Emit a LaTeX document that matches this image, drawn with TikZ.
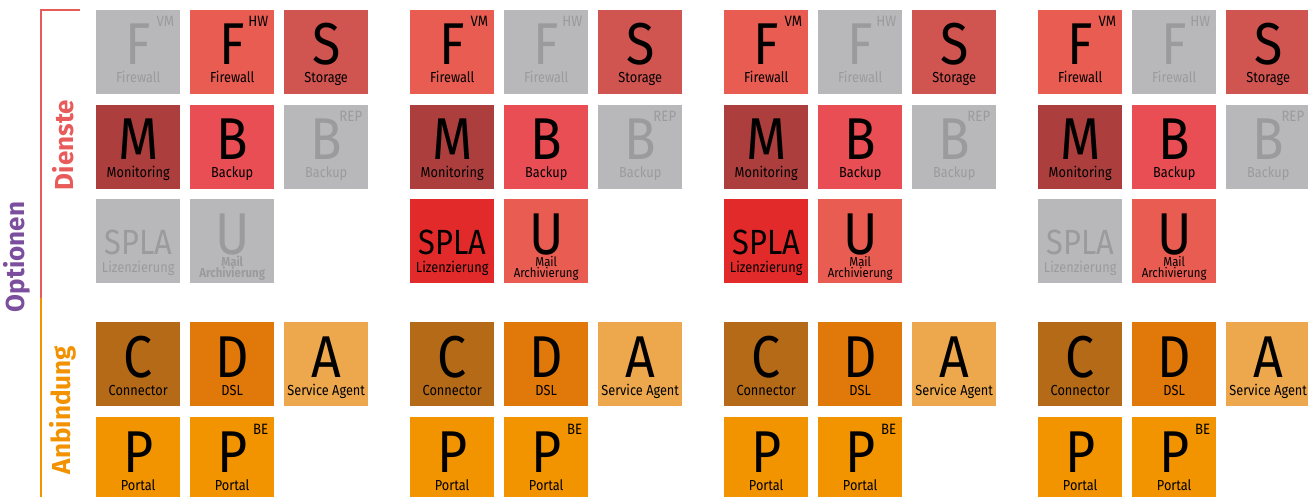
\documentclass[tikz,border=0pt]{standalone}
\usepackage{fontspec}
\setmainfont{Fira Sans}[FakeStretch=0.88]
\newfontfamily\sidefont{Fira Sans}
\usetikzlibrary{calc}
\definecolor{tgray}{HTML}{B8B8BA}
\definecolor{tgtext}{HTML}{9B9B9D}
\definecolor{cfw}{HTML}{E85C52}
\definecolor{cstor}{HTML}{D05450}
\definecolor{cmon}{HTML}{AC3E3E}
\definecolor{cbak}{HTML}{E84E54}
\definecolor{cspla}{HTML}{E22A2A}
\definecolor{cmail}{HTML}{E85C52}
\definecolor{ccon}{HTML}{B56A18}
\definecolor{cdsl}{HTML}{E0780A}
\definecolor{cagt}{HTML}{EDA84E}
\definecolor{cpor}{HTML}{F29400}
\definecolor{sred}{HTML}{E95A5A}
\definecolor{sorg}{HTML}{F39200}
\definecolor{spur}{HTML}{7B4F9D}
\tikzset{
  tilebox/.style={draw=none, rectangle, minimum width=84pt, minimum height=84pt, inner sep=0pt, anchor=north west},
  bigl/.style={anchor=base, inner sep=0pt, font=\fontsize{59}{59}\selectfont},
  splal/.style={anchor=base, inner sep=0pt, font=\fontsize{35}{35}\selectfont},
  subl/.style={anchor=base, inner sep=0pt, font=\fontsize{14.5}{14.5}\selectfont},
  mail/.style={anchor=base, inner sep=0pt, font=\fontsize{13}{13}\selectfont},
  supl/.style={anchor=base east, inner sep=0pt, font=\fontsize{15}{15}\selectfont},
  sidelabel/.style={rotate=90, inner sep=0pt, font=\sidefont\bfseries\fontsize{26}{26}\selectfont},
  sideline/.style={line width=2pt}
}
% name, x, y, fill, textcolor, letterstyle, letter, sub, sup
\newcommand\mytile[9]{%
  \node[tilebox, fill=#4] (#1) at (#2,#3) {};
  \node[#6, text=#5] (#1-l) at ($(#1.north)+(0,55)$) {#7};
  \if\relax\detokenize{#8}\relax\else
    \node[subl, text=#5] (#1-s) at ($(#1.north)+(0,73)$) {#8};
  \fi
  \if\relax\detokenize{#9}\relax\else
    \node[supl, text=#5] (#1-p) at ($(#1.north east)+(-6,17)$) {#9};
  \fi
}
\begin{document}
\begin{tikzpicture}[x=1pt,y=-1pt]
\useasboundingbox (0,0) rectangle (1308,497);
\clip (0,0) rectangle (1308,497);
% side brackets
\coordinate (stub) at (80,10);
\coordinate (corner) at (41,10);
\coordinate (split) at (41,298);
\coordinate (bottom) at (41,498);
\draw[sideline, sred] (stub) -- (corner) -- (split);
\draw[sideline, sorg] (split) -- (bottom);
\node[sidelabel, text=sred] (dienste) at (63,145) {Dienste};
\node[sidelabel, text=sorg] (anbindung) at (63,410) {Anbindung};
\node[sidelabel, text=spur] (optionen) at (17,257) {Optionen};
% tiles
\foreach \g/\gx/\a/\b/\c/\d in {1/96/0/1/0/0, 2/410/1/0/1/1, 3/724/1/0/1/1, 4/1038/1/0/0/1}{
  \pgfmathsetmacro\xa{\gx}
  \pgfmathsetmacro\xb{\gx+94}
  \pgfmathsetmacro\xc{\gx+188}
  \ifnum\a=1 \def\fa{cfw}\def\ta{black}\else\def\fa{tgray}\def\ta{tgtext}\fi
  \ifnum\b=1 \def\fb{cfw}\def\tb{black}\else\def\fb{tgray}\def\tb{tgtext}\fi
  \ifnum\c=1 \def\fc{cspla}\def\tc{black}\else\def\fc{tgray}\def\tc{tgtext}\fi
  \ifnum\d=1 \def\fd{cmail}\def\td{black}\def\mailwt{\mdseries}\else\def\fd{tgray}\def\td{tgtext}\def\mailwt{\bfseries}\fi
  % row 1
  \mytile{t\g-fvm}{\xa}{10}{\fa}{\ta}{bigl}{F}{Firewall}{VM}
  \mytile{t\g-fhw}{\xb}{10}{\fb}{\tb}{bigl}{F}{Firewall}{HW}
  \mytile{t\g-sto}{\xc}{10}{cstor}{black}{bigl}{S}{Storage}{}
  % row 2
  \mytile{t\g-mon}{\xa}{105}{cmon}{black}{bigl}{M}{Monitoring}{}
  \mytile{t\g-bak}{\xb}{105}{cbak}{black}{bigl}{B}{Backup}{}
  \mytile{t\g-rep}{\xc}{105}{tgray}{tgtext}{bigl}{B}{Backup}{REP}
  % row 3
  \mytile{t\g-spla}{\xa}{199}{\fc}{\tc}{splal}{SPLA}{Lizenzierung}{}
  \mytile{t\g-mail}{\xb}{199}{\fd}{\td}{bigl}{U}{}{}
  \node[mail, text=\td] (t\g-mail-s1) at ($(t\g-mail.north)+(0,67)$) {\mailwt Mail};
  \node[mail, text=\td] (t\g-mail-s2) at ($(t\g-mail.north)+(0,78)$) {\mailwt Archivierung};
  % row 4
  \mytile{t\g-con}{\xa}{322}{ccon}{black}{bigl}{C}{Connector}{}
  \mytile{t\g-dsl}{\xb}{322}{cdsl}{black}{bigl}{D}{DSL}{}
  \mytile{t\g-agt}{\xc}{322}{cagt}{black}{bigl}{A}{Service Agent}{}
  % row 5
  \mytile{t\g-por}{\xa}{417}{cpor}{black}{bigl}{P}{Portal}{}
  \mytile{t\g-pbe}{\xb}{417}{cpor}{black}{bigl}{P}{Portal}{BE}
}
\end{tikzpicture}
\end{document}
